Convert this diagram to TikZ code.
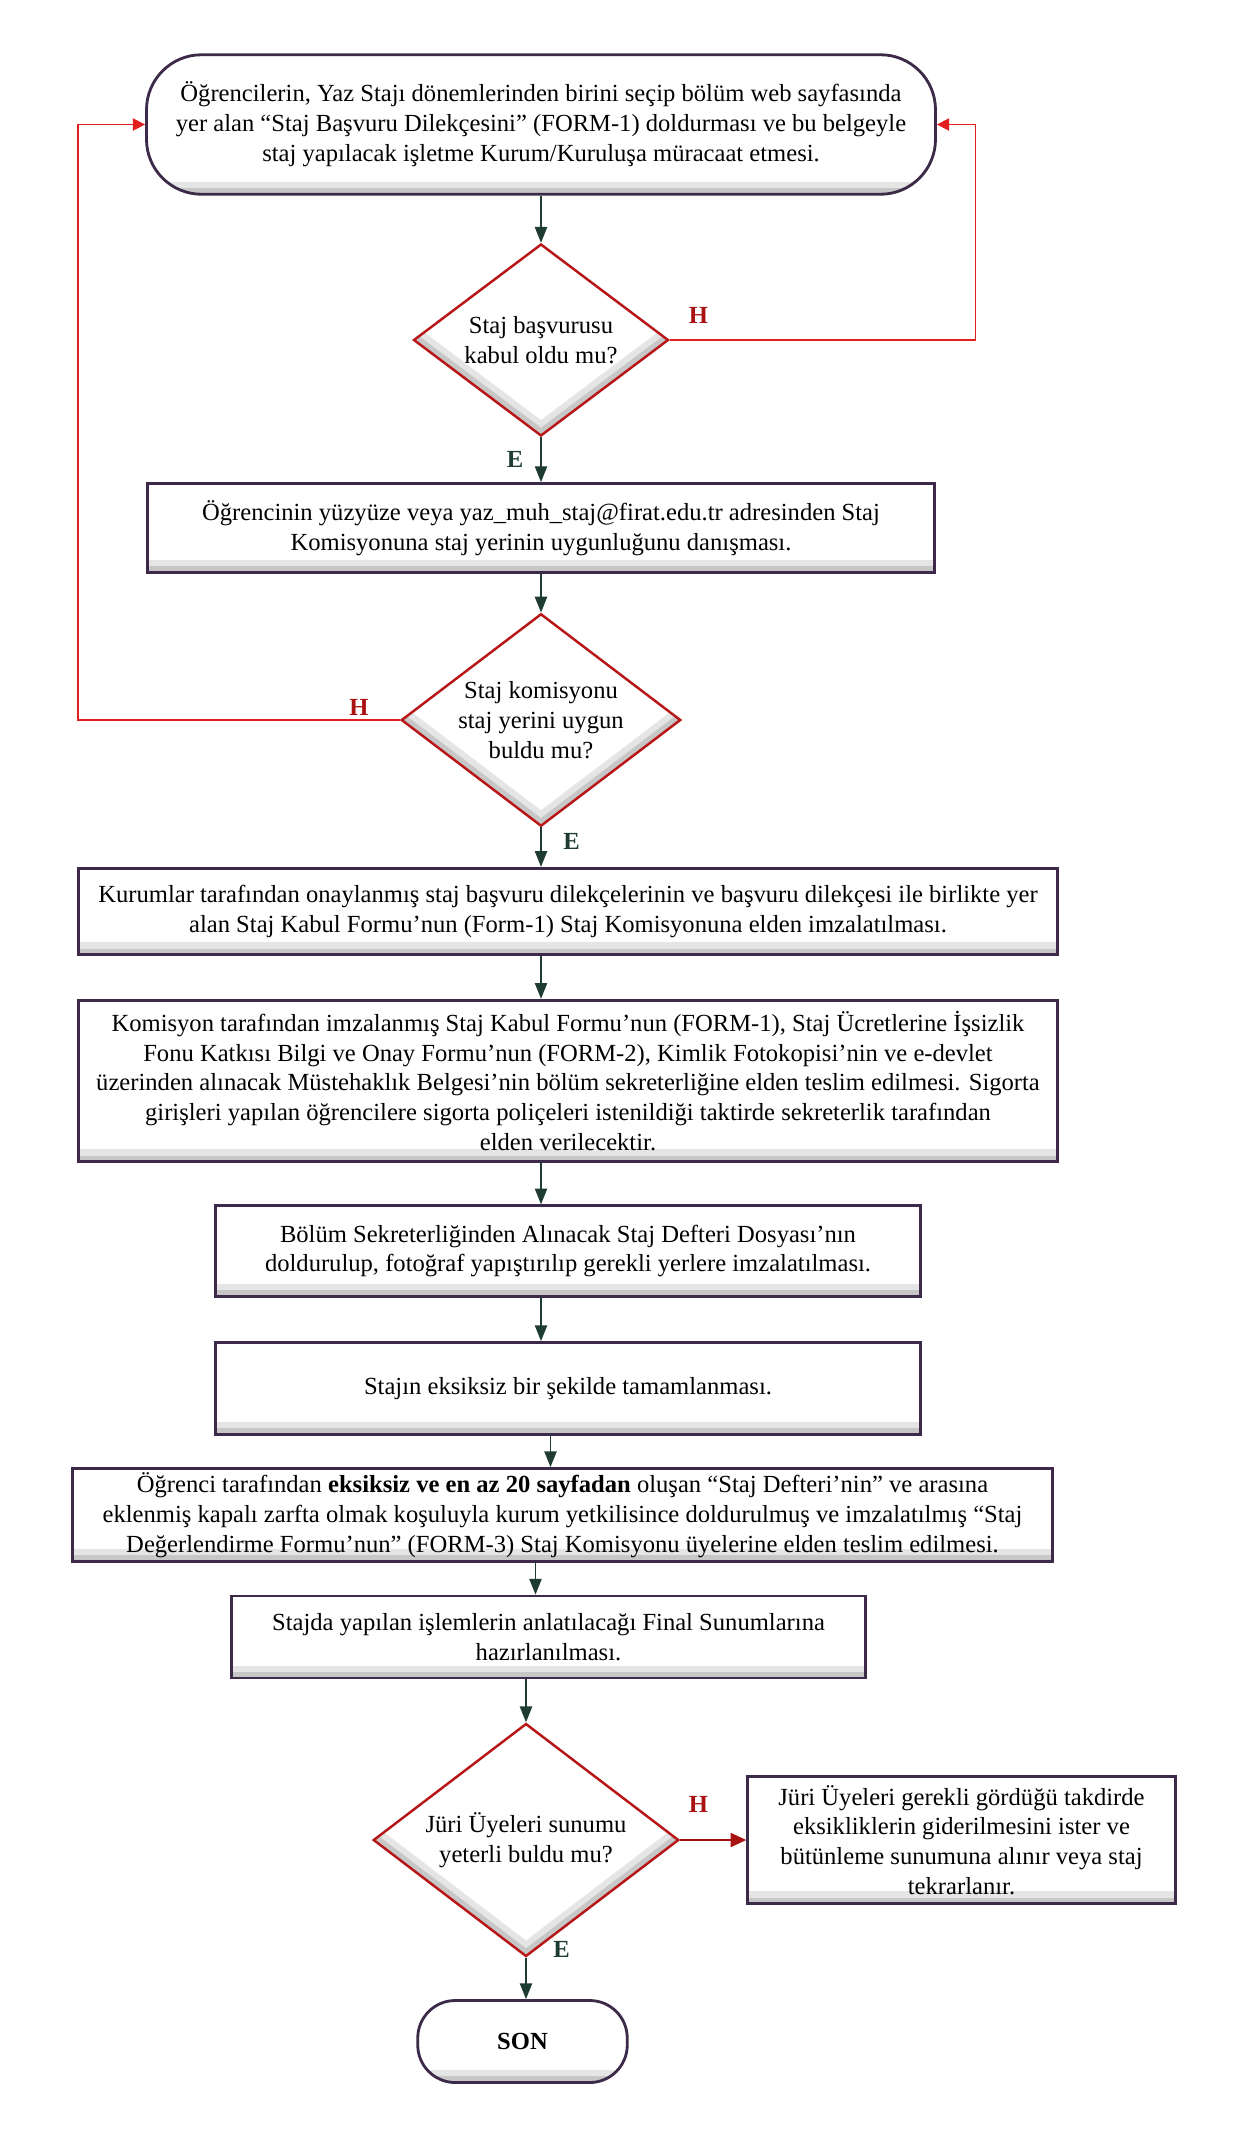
\documentclass[tikz,border=0pt]{standalone}
\usepackage{fontspec}
\setmainfont{Liberation Serif}
\usetikzlibrary{shapes.geometric,arrows.meta}

\definecolor{boxline}{RGB}{60,42,72}
\definecolor{diamondline}{RGB}{184,22,22}
\definecolor{flowgreen}{RGB}{30,60,50}
\definecolor{backred}{RGB}{226,30,30}
\definecolor{darkred}{RGB}{170,18,18}

% ic kenarda hafif golge (alt kenar)
\tikzstyle{boxbevel} = [path picture={
    \draw[black!10, line width=14pt] (path picture bounding box.south west) -- (path picture bounding box.south east);
    \draw[black!22, line width=7pt] (path picture bounding box.south west) -- (path picture bounding box.south east);}]
\tikzstyle{diamondbevel} = [path picture={
    \draw[black!10, line width=14pt] (path picture bounding box.west) -- (path picture bounding box.south) -- (path picture bounding box.east);
    \draw[black!22, line width=7pt] (path picture bounding box.west) -- (path picture bounding box.south) -- (path picture bounding box.east);}]

\tikzstyle{process} = [draw=boxline, line width=1.6pt, rectangle, fill=white,
  boxbevel, inner sep=2pt, align=center, font=\fontsize{14}{17}\selectfont]
\tikzstyle{terminal} = [process, rounded corners=1.1cm]
\tikzstyle{decision} = [draw=diamondline, line width=1.4pt, diamond, fill=white,
  diamondbevel, inner sep=0pt, shape aspect=1.32, align=center,
  font=\fontsize{14}{17}\selectfont]
\tikzstyle{flow} = [-{Triangle[length=9pt,width=7pt]}, draw=flowgreen, line width=0.8pt]
\tikzstyle{backflow} = [-{Triangle[length=7pt,width=7pt]}, draw=backred, line width=0.9pt]
\tikzstyle{noflow} = [-{Triangle[length=9pt,width=8pt]}, draw=darkred, line width=1.2pt]
\tikzstyle{nolabel} = [text=darkred, font=\fontsize{14}{17}\selectfont\bfseries]
\tikzstyle{yeslabel} = [text=flowgreen, font=\fontsize{14}{17}\selectfont\bfseries]

\begin{document}
\begin{tikzpicture}
        \useasboundingbox (0,0) rectangle (24.66,-42.74);

        \coordinate (mid) at (10.82,0);
        \coordinate (rightturn) at (19.51,-2.49);
        \coordinate (leftturn)  at (1.56,-2.49);

        \node [terminal, minimum width=15.78cm, minimum height=2.79cm] (start) at (10.82,-2.49)
          {Öğrencilerin, Yaz Stajı dönemlerinden birini seçip bölüm web sayfasında\\
           yer alan “Staj Başvuru Dilekçesini” (FORM-1) doldurması ve bu belgeyle\\
           staj yapılacak işletme Kurum/Kuruluşa müracaat etmesi.};
        \node [decision, minimum width=5.10cm, minimum height=3.84cm] (basvuru) at (10.82,-6.80)
          {Staj başvurusu\\kabul oldu mu?};
        \node [process, minimum width=15.73cm, minimum height=1.78cm] (danisma) at (10.82,-10.56)
          {Öğrencinin yüzyüze veya yaz\_muh\_staj@firat.edu.tr adresinden Staj\\
           Komisyonuna staj yerinin uygunluğunu danışması.};
        \node [decision, minimum width=5.59cm, minimum height=4.25cm] (uygun) at (10.82,-14.40)
          {Staj komisyonu\\staj yerini uygun\\buldu mu?};
        \node [process, minimum width=19.59cm, minimum height=1.73cm] (kabulform) at (11.36,-18.23)
          {Kurumlar tarafından onaylanmış staj başvuru dilekçelerinin ve başvuru dilekçesi ile birlikte yer\\
           alan Staj Kabul Formu’nun (Form-1) Staj Komisyonuna elden imzalatılması.};
        \node [process, minimum width=19.59cm, minimum height=3.23cm] (teslim) at (11.36,-21.62)
          {Komisyon tarafından imzalanmış Staj Kabul Formu’nun (FORM-1), Staj Ücretlerine İşsizlik\\
           Fonu Katkısı Bilgi ve Onay Formu’nun (FORM-2), Kimlik Fotokopisi’nin ve e-devlet\\
           üzerinden alınacak Müstehaklık Belgesi’nin bölüm sekreterliğine elden teslim edilmesi. Sigorta\\
           girişleri yapılan öğrencilere sigorta poliçeleri istenildiği taktirde sekreterlik tarafından\\
           elden verilecektir.};
        \node [process, minimum width=14.11cm, minimum height=1.81cm] (defter) at (11.36,-25.02)
          {Bölüm Sekreterliğinden Alınacak Staj Defteri Dosyası’nın\\
           doldurulup, fotoğraf yapıştırılıp gerekli yerlere imzalatılması.};
        \node [process, minimum width=14.11cm, minimum height=1.84cm] (tamam) at (11.36,-27.77)
          {Stajın eksiksiz bir şekilde tamamlanması.};
        \node [process, minimum width=19.59cm, minimum height=1.86cm] (degerlendirme) at (11.25,-30.30)
          {Öğrenci tarafından \textbf{eksiksiz ve en az 20 sayfadan} oluşan “Staj Defteri’nin” ve arasına\\
           eklenmiş kapalı zarfta olmak koşuluyla kurum yetkilisince doldurulmuş ve imzalatılmış “Staj\\
           Değerlendirme Formu’nun” (FORM-3) Staj Komisyonu üyelerine elden teslim edilmesi.};
        \node [process, minimum width=12.69cm, minimum height=1.64cm] (sunum) at (10.97,-32.74)
          {Stajda yapılan işlemlerin anlatılacağı Final Sunumlarına\\hazırlanılması.};
        \node [decision, minimum width=6.11cm, minimum height=4.66cm] (juri) at (10.52,-36.80)
          {Jüri Üyeleri sunumu\\yeterli buldu mu?};
        \node [process, minimum width=8.55cm, minimum height=2.55cm] (tekrar) at (19.23,-36.80)
          {Jüri Üyeleri gerekli gördüğü takdirde\\eksikliklerin giderilmesini ister ve\\
           bütünleme sunumuna alınır veya staj\\tekrarlanır.};
        \node [terminal, rounded corners=0.75cm, minimum width=4.19cm, minimum height=1.64cm,
          font=\fontsize{14}{17}\selectfont\bfseries] (son) at (10.45,-40.83) {SON};

        % evet / hayir etiketleri
        \node [nolabel]  (h1) at (13.97,-6.30)  {H};
        \node [yeslabel] (e1) at (10.30,-9.18)  {E};
        \node [nolabel]  (h2) at (7.18,-14.14)  {H};
        \node [yeslabel] (e2) at (11.43,-16.82) {E};
        \node [nolabel]  (h3) at (13.97,-36.09) {H};
        \node [yeslabel] (e3) at (11.23,-38.99) {E};

        \draw[flow] (start.south) -- (basvuru.north);
        \draw[flow] (basvuru.south) -- (danisma.north);
        \draw[flow] (danisma.south) -- (uygun.north);
        \draw[flow] (uygun.south) -- (uygun.south |- kabulform.north);
        \draw[flow] (kabulform.south -| mid) -- (teslim.north -| mid);
        \draw[flow] (teslim.south -| mid) -- (defter.north -| mid);
        \draw[flow] (defter.south -| mid) -- (tamam.north -| mid);
        \draw[flow] ([xshift=-0.35cm]tamam.south) -- ([xshift=-0.35cm]tamam.south |- degerlendirme.north);
        \draw[flow] ([xshift=-0.26cm]sunum.north |- degerlendirme.south) -- ([xshift=-0.26cm]sunum.north);
        \draw[flow] (sunum.south -| juri.north) -- (juri.north);
        \draw[flow] (juri.south) -- (juri.south |- son.north);
        \draw[noflow] (juri.east) -- (tekrar.west);

        \draw[backflow] (basvuru.east) -| (rightturn) -- (start.east);
        \draw[backflow] (uygun.west) -| (leftturn) -- (start.west);
      \end{tikzpicture}
\end{document}
